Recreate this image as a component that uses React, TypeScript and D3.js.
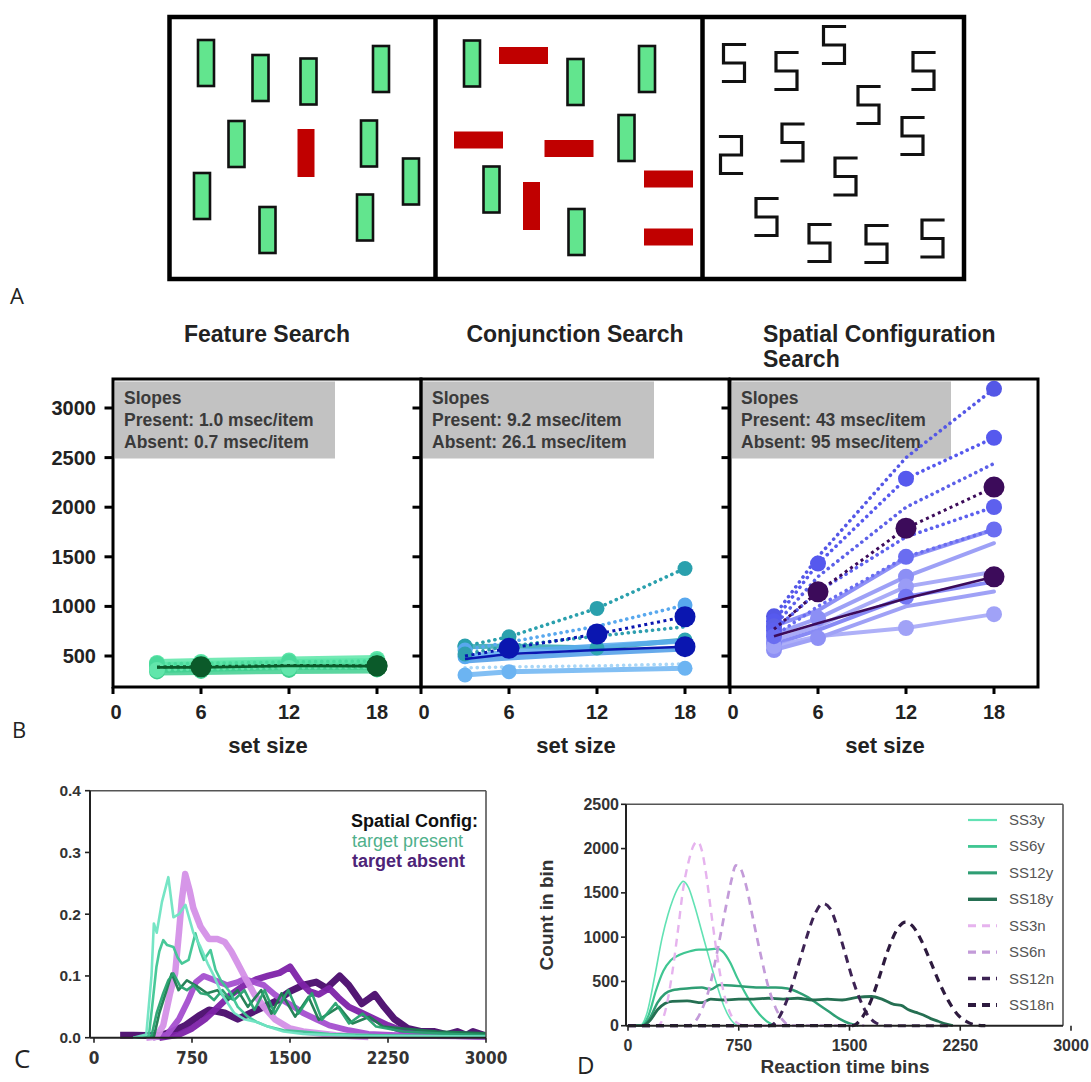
import React from "react";
import * as d3 from "d3";

const W = 1091;
const H = 1082;
const SANS = "'Liberation Sans', Arial, Helvetica, sans-serif";
const NARROW = "'Liberation Sans Narrow', 'Arial Narrow', 'DejaVu Sans Condensed', sans-serif";
const LETTER = "'Open Sans', 'Noto Sans', sans-serif";

// ---------------- Panel A: stimulus displays (stimulus units 0-270) ----------------
const featureItems = [
  { x: 41, y: 50, kind: "gv" },
  { x: 95.5, y: 65, kind: "gv" },
  { x: 143.5, y: 68.5, kind: "gv" },
  { x: 216, y: 56, kind: "gv" },
  { x: 71.5, y: 131, kind: "gv" },
  { x: 141, y: 140, kind: "rv" },
  { x: 204, y: 130.5, kind: "gv" },
  { x: 246, y: 168.5, kind: "gv" },
  { x: 37, y: 183, kind: "gv" },
  { x: 102.5, y: 217, kind: "gv" },
  { x: 200, y: 204.5, kind: "gv" },
];
const conjunctionItems = [
  { x: 38, y: 50.5, kind: "gv" },
  { x: 89.5, y: 42.5, kind: "rh" },
  { x: 141.5, y: 69, kind: "gv" },
  { x: 213, y: 56, kind: "gv" },
  { x: 44.5, y: 127, kind: "rh" },
  { x: 135, y: 135.5, kind: "rh" },
  { x: 192.5, y: 125, kind: "gv" },
  { x: 57.5, y: 176.5, kind: "gv" },
  { x: 97.5, y: 193, kind: "rv" },
  { x: 234.5, y: 166, kind: "rh" },
  { x: 234.5, y: 224, kind: "rh" },
  { x: 142.5, y: 219, kind: "gv" },
];
const spatialItems = [
  { x: 33, y: 50, kind: "5" },
  { x: 85.5, y: 58, kind: "5" },
  { x: 133, y: 32, kind: "5" },
  { x: 222.5, y: 58, kind: "5" },
  { x: 167.5, y: 92, kind: "5" },
  { x: 211.5, y: 123, kind: "5" },
  { x: 30, y: 142, kind: "2" },
  { x: 91.5, y: 129.5, kind: "5" },
  { x: 144.5, y: 163.5, kind: "5" },
  { x: 65.5, y: 204, kind: "5" },
  { x: 118.5, y: 230, kind: "5" },
  { x: 175.5, y: 231, kind: "5" },
  { x: 231.5, y: 225.5, kind: "5" },
];

// ---------------- Panel B: RT x set size ----------------
const SET_SIZES = [3, 6, 12, 18];
const X_TICKS_B = [0, 6, 12, 18];
const Y_TICKS_B = [500, 1000, 1500, 2000, 2500, 3000];

const featurePresent = [
  [400, 410, 430, 440],
  [370, 380, 400, 400],
  [430, 440, 455, 470],
  [345, 350, 360, 365],
];
const featureAbsent = [
  [390, 400, 410, 425],
  [420, 425, 440, 450],
  [360, 370, 380, 385],
];
const featureMeanPresent = [385, 385, 400, 398];
const featureMeanAbsent = [390, 392, 405, 402];
const featurePresentDots = [[1, 1, 1, 1], [1, 1, 1, 1], [1, 1, 1, 1], [1, 1, 1, 1]];
const featureAbsentDots = [[1, 1, 1, 1], [1, 1, 1, 1], [1, 1, 1, 1]];

const conjPresent = [
  [594, 600, 580, 661],
  [493, 540, 600, 650],
  [450, 480, 530, 570],
  [309, 342, 360, 376],
];
const conjAbsent = [
  [600, 694, 980, 1382],
  [560, 640, 800, 1013],
  [520, 600, 700, 795],
  [380, 390, 400, 420],
];
const conjMeanPresent = [470, 520, 560, 594];
const conjMeanAbsent = [500, 577, 721, 896];
const conjPresentDots = [[1, 0, 1, 1], [1, 0, 0, 0], [0, 0, 0, 0], [1, 1, 0, 1]];
const conjAbsentDots = [[1, 1, 1, 1], [1, 0, 0, 1], [1, 0, 0, 0], [0, 0, 0, 0]];

const spatialPresent = [
  [800, 960, 1486, 1775],
  [720, 880, 1300, 1637],
  [660, 800, 1200, 1350],
  [620, 760, 1097, 1250],
  [560, 681, 1000, 1150],
  [600, 700, 782, 922],
];
const spatialAbsent = [
  [900, 1500, 2500, 3193],
  [850, 1432, 2288, 2700],
  [800, 1300, 2000, 2440],
  [760, 1150, 1700, 2002],
  [700, 1000, 1500, 1775],
];
const spatialMeanPresent = [700, 830, 1080, 1298];
const spatialMeanAbsent = [770, 1147, 1788, 2203];
const spatialPresentDots = [[1, 0, 0, 0], [1, 1, 1, 0], [1, 0, 1, 0], [1, 0, 1, 0], [1, 1, 0, 0], [1, 0, 1, 1]];
const spatialAbsentDots = [[1, 0, 0, 1], [1, 1, 1, 1], [1, 0, 0, 0], [1, 0, 0, 1], [1, 0, 1, 1]];

const featureSlopes = ["Slopes", "Present: 1.0 msec/item", "Absent: 0.7 msec/item"];
const conjSlopes = ["Slopes", "Present: 9.2 msec/item", "Absent: 26.1 msec/item"];
const spatialSlopes = ["Slopes", "Present: 43 msec/item", "Absent: 95 msec/item"];

// ---------------- Panel C: RT distributions (proportion) ----------------
const C_X_TICKS = [0, 750, 1500, 2250, 3000];
const C_Y_TICKS = [0, 0.1, 0.2, 0.3, 0.4];
const cPresent3 = [[300,0],[400,0.005],[440,0.1],[458,0.185],[480,0.17],[520,0.22],[569,0.26],[608,0.195],[650,0.2],[700,0.215],[760,0.17],[815,0.147],[870,0.12],[918,0.1],[980,0.07],[1073,0.04],[1150,0.03],[1250,0.025],[1330,0.018],[1450,0.01],[1600,0.006],[2000,0.003],[3000,0.002]];
const cPresent6 = [[300,0],[420,0.003],[450,0.06],[478,0.115],[500,0.14],[530,0.158],[560,0.15],[608,0.147],[640,0.13],[672,0.12],[724,0.126],[776,0.169],[815,0.14],[840,0.126],[892,0.142],[930,0.11],[970,0.093],[1047,0.072],[1100,0.05],[1177,0.034],[1250,0.025],[1332,0.018],[1450,0.012],[1590,0.01],[1800,0.006],[2200,0.004],[3000,0.002]];
const cPresent12 = [[300,0],[440,0.003],[480,0.04],[530,0.072],[569,0.093],[608,0.104],[660,0.083],[711,0.077],[760,0.085],[815,0.072],[870,0.07],[918,0.061],[983,0.077],[1030,0.065],[1073,0.061],[1151,0.077],[1228,0.045],[1306,0.077],[1383,0.039],[1487,0.077],[1565,0.039],[1668,0.072],[1745,0.029],[1849,0.056],[1952,0.023],[2056,0.039],[2159,0.018],[2366,0.01],[2625,0.007],[3000,0.004]];
const cPresent18 = [[300,0],[460,0.003],[500,0.04],[556,0.077],[595,0.104],[647,0.077],[711,0.093],[789,0.083],[866,0.072],[944,0.077],[1021,0.061],[1099,0.077],[1177,0.05],[1280,0.077],[1358,0.039],[1435,0.072],[1539,0.034],[1642,0.066],[1720,0.029],[1875,0.05],[1978,0.023],[2108,0.034],[2211,0.018],[2366,0.015],[2625,0.01],[3000,0.007]];
const cAbsent3 = [[400,0],[480,0.002],[530,0.02],[580,0.07],[621,0.104],[650,0.17],[672,0.223],[698,0.265],[730,0.24],[760,0.21],[815,0.18],[879,0.16],[944,0.16],[1000,0.155],[1050,0.14],[1100,0.12],[1150,0.1],[1228,0.07],[1300,0.05],[1383,0.03],[1500,0.015],[1600,0.01],[1850,0.004],[2100,0.001]];
const cAbsent6 = [[450,0],[560,0.005],[650,0.03],[720,0.06],[780,0.09],[840,0.1],[900,0.095],[960,0.09],[1020,0.085],[1100,0.09],[1150,0.095],[1228,0.09],[1300,0.085],[1383,0.07],[1450,0.06],[1530,0.05],[1600,0.04],[1700,0.03],[1800,0.02],[1950,0.012],[2100,0.006],[2400,0.003],[3000,0.002]];
const cAbsent12 = [[500,0],[650,0.005],[750,0.015],[850,0.03],[950,0.05],[1050,0.07],[1150,0.085],[1250,0.095],[1330,0.1],[1420,0.105],[1500,0.115],[1580,0.09],[1650,0.075],[1720,0.07],[1800,0.08],[1870,0.065],[1950,0.05],[2050,0.04],[2150,0.03],[2250,0.02],[2350,0.012],[2450,0.006],[2600,0.004],[3000,0.002]];
const cAbsent18 = [[200,0.004],[300,0.004],[500,0.003],[600,0.01],[700,0.02],[800,0.035],[880,0.045],[1000,0.04],[1100,0.03],[1200,0.04],[1300,0.05],[1400,0.06],[1500,0.075],[1600,0.085],[1700,0.09],[1780,0.08],[1880,0.1],[1950,0.085],[2050,0.055],[2150,0.07],[2220,0.05],[2300,0.03],[2400,0.015],[2500,0.01],[2600,0.01],[2700,0.005],[2780,0.01],[2850,0.004],[2900,0.01],[3000,0.003]];

// ---------------- Panel D: model RT distributions (counts) ----------------
const D_X_TICKS = [0, 750, 1500, 2250, 3000];
const D_Y_TICKS = [0, 500, 1000, 1500, 2000, 2500];
const dLabels = ["SS3y", "SS6y", "SS12y", "SS18y", "SS3n", "SS6n", "SS12n", "SS18n"];
const dSS3y = [[0,0],[80,0],[130,150],[180,550],[232,1000],[270,1250],[303,1420],[340,1560],[374,1630],[410,1560],[450,1360],[500,1060],[550,760],[600,470],[650,220],[700,60],[740,0]];
const dSS6y = [[0,0],[90,0],[140,120],[190,400],[240,620],[290,740],[350,800],[420,840],[480,860],[540,860],[600,870],[640,840],[690,720],[740,540],[790,380],[840,240],[890,130],[940,50],[1000,0]];
const dSS12y = [[0,0],[100,0],[150,90],[200,260],[250,360],[300,400],[400,420],[500,430],[560,410],[620,460],[700,455],[800,440],[900,430],[1000,430],[1080,420],[1150,380],[1220,320],[1290,240],[1360,160],[1430,80],[1500,25],[1560,0]];
const dSS18y = [[0,0],[100,0],[150,60],[200,180],[250,250],[300,275],[400,280],[500,260],[560,300],[650,290],[750,300],[850,300],[950,310],[1050,300],[1150,310],[1250,290],[1350,300],[1450,290],[1550,320],[1650,330],[1720,300],[1800,240],[1850,230],[1900,180],[1950,150],[2000,120],[2050,80],[2100,50],[2150,20],[2200,0]];
const dSS3n = [[0,0],[200,0],[250,150],[300,600],[340,1100],[374,1550],[410,1850],[440,2020],[470,2080],[500,1980],[530,1700],[560,1320],[590,950],[620,620],[650,360],[690,150],[740,30],[800,0],[1100,0]];
const dSS6n = [[0,0],[400,0],[450,40],[500,180],[550,420],[600,800],[650,1230],[700,1640],[730,1810],[760,1780],[800,1580],[850,1180],[900,790],[950,440],[1000,200],[1050,60],[1100,0],[1600,0]];
const dSS12n = [[0,0],[960,0],[1010,60],[1060,220],[1110,450],[1160,720],[1210,1000],[1260,1240],[1320,1380],[1370,1320],[1420,1100],[1470,820],[1520,530],[1570,300],[1620,130],[1680,30],[1740,0],[2200,0]];
const dSS18n = [[0,0],[1520,0],[1580,80],[1640,260],[1700,540],[1760,850],[1820,1080],[1880,1170],[1930,1120],[1990,950],[2050,720],[2110,480],[2170,280],[2230,130],[2290,50],[2350,10],[2420,0]];

// ================= Panel A =================
const A_ORIGINS = [165, 434, 701];
const A_TOP = 13;

function Stimulus({ items, origin }: { items: any[]; origin: number }) {
  const sx = d3.scaleLinear().domain([0, 270]).range([origin, origin + 270]);
  const sy = d3.scaleLinear().domain([0, 270]).range([A_TOP, A_TOP + 270]);
  return (
    <g>
      {items.map((it, i) => {
        const cx = sx(it.x);
        const cy = sy(it.y);
        if (it.kind === "gv") {
          return <rect key={i} x={cx - 8} y={cy - 23} width={16} height={46} fill="#62e58e" stroke="#111" strokeWidth={2.6} />;
        }
        if (it.kind === "rv") {
          return <rect key={i} x={cx - 8.5} y={cy - 24} width={17} height={48} fill="#c00000" />;
        }
        if (it.kind === "rh") {
          return <rect key={i} x={cx - 24.5} y={cy - 8.5} width={49} height={17} fill="#c00000" />;
        }
        const w = 21;
        const h = 37;
        const l = cx - w / 2;
        const r = cx + w / 2;
        const t = cy - h / 2;
        const b = cy + h / 2;
        const d =
          it.kind === "5"
            ? `M${r},${t} H${l} V${cy} H${r} V${b} H${l}`
            : `M${l},${t} H${r} V${cy} H${l} V${b} H${r}`;
        return <path key={i} d={d} fill="none" stroke="#111" strokeWidth={3.2} strokeLinecap="square" />;
      })}
    </g>
  );
}

function PanelA() {
  return (
    <g>
      <Stimulus items={featureItems} origin={A_ORIGINS[0]} />
      <Stimulus items={conjunctionItems} origin={A_ORIGINS[1]} />
      <Stimulus items={spatialItems} origin={A_ORIGINS[2]} />
      <rect x={169.5} y={17} width={794.5} height={262} fill="none" stroke="#000" strokeWidth={4.5} />
      <line x1={435.5} x2={435.5} y1={17} y2={279} stroke="#000" strokeWidth={4.5} />
      <line x1={702.5} x2={702.5} y1={17} y2={279} stroke="#000" strokeWidth={4.5} />
      <text x={10} y={304} fontFamily={LETTER} fontSize={22} fill="#222">A</text>
    </g>
  );
}

// ================= Panel B =================
const B_TOP = 379;
const B_BOTTOM = 687;
const B_W = 308;
const yB = d3.scaleLinear().domain([0, 3000]).range([705.6, 408]);

type BCfg = {
  left: number;
  title: string[];
  titleX: number;
  titleAnchor: string;
  present: number[][];
  absent: number[][];
  presentDots: number[][];
  absentDots: number[][];
  meanP: number[];
  meanA: number[];
  colP: string[];
  colA: string[];
  meanCol: string;
  indivWidth: number;
  indivR: number;
  slopes: string[];
  grayW: number;
  meanDotsP: number[];
  meanDotsA: number[];
  yLabels: boolean;
};

function SearchPanel({ c }: { c: BCfg }) {
  const x = d3.scaleLinear().domain([0, 21]).range([c.left, c.left + B_W]);
  const line = d3
    .line<number>()
    .x((_, i) => x(SET_SIZES[i]))
    .y((d) => yB(d));
  return (
    <g>
      {c.title.map((t, i) => (
        <text key={i} x={c.titleX} y={341.5 + i * 25.5} textAnchor={c.titleAnchor as any} fontFamily={SANS} fontWeight="bold" fontSize={23} fill="#222">
          {t}
        </text>
      ))}
      <rect x={c.left + 2} y={381.5} width={c.grayW} height={77} fill="#c2c2c2" />
      {c.slopes.map((t, i) => (
        <text key={i} x={c.left + 11} y={403.5 + i * 22} fontFamily={SANS} fontWeight="bold" fontSize={17.5} fill="#3a3a3a">
          {t}
        </text>
      ))}
      {c.present.map((s, i) => (
        <path key={"p" + i} d={line(s) || ""} fill="none" stroke={c.colP[i % c.colP.length]} strokeWidth={c.indivWidth} strokeOpacity={0.85} strokeLinecap="round" />
      ))}
      {c.absent.map((s, i) => (
        <path key={"a" + i} d={line(s) || ""} fill="none" stroke={c.colA[i % c.colA.length]} strokeWidth={3.6} strokeDasharray="0.1 6" strokeLinecap="round" />
      ))}
      {c.present.map((s, i) =>
        s.map((v, j) =>
          c.presentDots[i][j] ? <circle key={"pd" + i + "-" + j} cx={x(SET_SIZES[j])} cy={yB(v)} r={c.indivR} fill={c.colP[i % c.colP.length]} /> : null
        )
      )}
      {c.absent.map((s, i) =>
        s.map((v, j) =>
          c.absentDots[i][j] ? <circle key={"ad" + i + "-" + j} cx={x(SET_SIZES[j])} cy={yB(v)} r={c.indivR} fill={c.colA[i % c.colA.length]} /> : null
        )
      )}
      <path d={line(c.meanP) || ""} fill="none" stroke={c.meanCol} strokeWidth={2.6} />
      <path d={line(c.meanA) || ""} fill="none" stroke={c.meanCol} strokeWidth={3} strokeDasharray="3 3.5" />
      {c.meanDotsA.map((j) => (
        <circle key={"ma" + j} cx={x(SET_SIZES[j])} cy={yB(c.meanA[j])} r={10.5} fill={c.meanCol} />
      ))}
      {c.meanDotsP.map((j) => (
        <circle key={"mp" + j} cx={x(SET_SIZES[j])} cy={yB(c.meanP[j])} r={10.5} fill={c.meanCol} />
      ))}
      <rect x={c.left} y={B_TOP} width={B_W} height={B_BOTTOM - B_TOP} fill="none" stroke="#000" strokeWidth={3} />
      {Y_TICKS_B.map((t) => (
        <line key={"yt" + t} x1={c.left - 8.5} x2={c.left} y1={yB(t)} y2={yB(t)} stroke="#000" strokeWidth={3} />
      ))}
      {c.yLabels &&
        Y_TICKS_B.map((t) => (
          <text key={"yl" + t} x={96} y={yB(t) + 7} textAnchor="end" fontFamily={SANS} fontWeight="bold" fontSize={20} fill="#222">
            {t}
          </text>
        ))}
      {X_TICKS_B.map((t) => (
        <line key={"xt" + t} x1={x(t)} x2={x(t)} y1={B_BOTTOM} y2={B_BOTTOM + 7} stroke="#000" strokeWidth={3} />
      ))}
      {X_TICKS_B.map((t) => (
        <text key={"xl" + t} x={x(t) + (t === 0 ? 3 : 0)} y={719} textAnchor="middle" fontFamily={SANS} fontWeight="bold" fontSize={20} fill="#222">
          {t}
        </text>
      ))}
      <text x={c.left + 155} y={753} textAnchor="middle" fontFamily={SANS} fontWeight="bold" fontSize={22} fill="#222">
        set size
      </text>
    </g>
  );
}

const bConfigs: BCfg[] = [
  {
    left: 113,
    title: ["Feature Search"],
    titleX: 267,
    titleAnchor: "middle",
    present: featurePresent,
    absent: featureAbsent,
    presentDots: featurePresentDots,
    absentDots: featureAbsentDots,
    meanP: featureMeanPresent,
    meanA: featureMeanAbsent,
    colP: ["#4fdf9f", "#45d597", "#5ce6a8", "#3fcf8f"],
    colA: ["#55e0a2", "#4ad99b", "#62e6ab"],
    meanCol: "#0b5a2a",
    indivWidth: 8,
    indivR: 8,
    slopes: featureSlopes,
    grayW: 220,
    meanDotsP: [3],
    meanDotsA: [1, 3],
    yLabels: true,
  },
  {
    left: 421,
    title: ["Conjunction Search"],
    titleX: 575,
    titleAnchor: "middle",
    present: conjPresent,
    absent: conjAbsent,
    presentDots: conjPresentDots,
    absentDots: conjAbsentDots,
    meanP: conjMeanPresent,
    meanA: conjMeanAbsent,
    colP: ["#2ea5b3", "#5aaaf0", "#4b9be8", "#6cb4f2"],
    colA: ["#2aa0ad", "#58a8ee", "#2f9fb0", "#a8d6f7"],
    meanCol: "#0a16b0",
    indivWidth: 5,
    indivR: 7.5,
    slopes: conjSlopes,
    grayW: 231,
    meanDotsP: [3],
    meanDotsA: [1, 2, 3],
    yLabels: false,
  },
  {
    left: 730,
    title: ["Spatial Configuration", "Search"],
    titleX: 763,
    titleAnchor: "start",
    present: spatialPresent,
    absent: spatialAbsent,
    presentDots: spatialPresentDots,
    absentDots: spatialAbsentDots,
    meanP: spatialMeanPresent,
    meanA: spatialMeanAbsent,
    colP: ["#7a7df4", "#8c8ff5", "#9a9cf6", "#7376f3", "#8e90f5", "#a0a2f7"],
    colA: ["#5457e6", "#5659ee", "#5c60e8", "#5d60ee", "#6a6df1"],
    meanCol: "#3c0b5a",
    indivWidth: 4,
    indivR: 8,
    slopes: spatialSlopes,
    grayW: 219,
    meanDotsP: [3],
    meanDotsA: [1, 2, 3],
    yLabels: false,
  },
];

function PanelB() {
  return (
    <g>
      {bConfigs.map((c, i) => (
        <SearchPanel key={i} c={c} />
      ))}
      <text x={12} y={738} fontFamily={LETTER} fontSize={22} fill="#222">B</text>
    </g>
  );
}

// ================= Panel C =================
const xC = d3.scaleLinear().domain([0, 3000]).range([94, 486]);
const yC = d3.scaleLinear().domain([0, 0.4]).range([1037.7, 790.7]);

const cSeries = [
  { data: cAbsent18, color: "#4a0b6d", width: 7 },
  { data: cAbsent12, color: "#7d22a8", width: 6.5 },
  { data: cAbsent6, color: "#a44fcf", width: 6 },
  { data: cAbsent3, color: "#d490e7", width: 6.5 },
  { data: cPresent18, color: "#1b7c4f", width: 2.6 },
  { data: cPresent12, color: "#27a26f", width: 2.6 },
  { data: cPresent6, color: "#3ec592", width: 2.6 },
  { data: cPresent3, color: "#6fe4c2", width: 2.6 },
];

function PanelC() {
  const line = d3
    .line<number[]>()
    .x((d) => xC(d[0]))
    .y((d) => yC(d[1]));
  const x0 = 90;
  return (
    <g>
      <defs>
        <clipPath id="clipC">
          <rect x={x0} y={yC(0.4)} width={xC(3000) - x0} height={yC(0) - yC(0.4) + 4} />
        </clipPath>
      </defs>
      <g clipPath="url(#clipC)">
        {cSeries.map((s, i) => (
          <path key={i} d={line(s.data) || ""} fill="none" stroke={s.color} strokeWidth={s.width} strokeLinejoin="round" strokeOpacity={0.95} />
        ))}
      </g>
      <line x1={x0} x2={xC(3000)} y1={yC(0.4)} y2={yC(0.4)} stroke="#555" strokeWidth={1.6} />
      <line x1={xC(3000)} x2={xC(3000)} y1={yC(0.4)} y2={yC(0)} stroke="#555" strokeWidth={1.6} />
      <line x1={x0} x2={x0} y1={yC(0.4)} y2={yC(0)} stroke="#222" strokeWidth={2} />
      <line x1={x0} x2={xC(3000)} y1={yC(0)} y2={yC(0)} stroke="#222" strokeWidth={2} />
      {C_Y_TICKS.map((t) => (
        <g key={"cy" + t}>
          <line x1={x0 - 5} x2={x0} y1={yC(t)} y2={yC(t)} stroke="#222" strokeWidth={1.6} />
          <text x={81} y={yC(t) + 5.5} textAnchor="end" fontFamily={SANS} fontWeight="bold" fontSize={15.5} fill="#333">
            {d3.format(".1f")(t)}
          </text>
        </g>
      ))}
      {C_X_TICKS.map((t) => (
        <g key={"cx" + t}>
          <line x1={xC(t)} x2={xC(t)} y1={yC(0)} y2={yC(0) + 5} stroke="#222" strokeWidth={1.6} />
          <text x={xC(t)} y={1064} textAnchor="middle" fontFamily={NARROW} fontWeight="bold" fontSize={17} fill="#333">
            {t}
          </text>
        </g>
      ))}
      <text x={351} y={826.5} fontFamily={SANS} fontWeight="bold" fontSize={18} fill="#111">Spatial Config:</text>
      <text x={352} y={847} fontFamily={SANS} fontSize={18} fill="#4fb08b">target present</text>
      <text x={352} y={866.5} fontFamily={SANS} fontWeight="bold" fontSize={18} fill="#4d2478">target absent</text>
      <text x={14} y={1068} fontFamily={LETTER} fontSize={26} fill="#222">C</text>
    </g>
  );
}

// ================= Panel D =================
const xD = d3.scaleLinear().domain([0, 3000]).range([628, 1071]);
const yD = d3.scaleLinear().domain([0, 2500]).range([1025.7, 804.3]);
const D_AXIS_X = 626;
const D_RIGHT = 1063;

const dSeries = [
  { data: dSS3y, color: "#62e2b4", width: 1.6, dash: false },
  { data: dSS6y, color: "#3fc692", width: 2.2, dash: false },
  { data: dSS12y, color: "#2f9e74", width: 2.5, dash: false },
  { data: dSS18y, color: "#256f52", width: 2.8, dash: false },
  { data: dSS3n, color: "#e6b3ee", width: 2.4, dash: true },
  { data: dSS6n, color: "#c39bd9", width: 2.7, dash: true },
  { data: dSS12n, color: "#3d2354", width: 3, dash: true },
  { data: dSS18n, color: "#2d1a3e", width: 3.2, dash: true },
];

function PanelD() {
  const line = d3
    .line<number[]>()
    .x((d) => xD(d[0]))
    .y((d) => yD(d[1]))
    .curve(d3.curveMonotoneX);
  const legendY = d3.scaleLinear().domain([0, 7]).range([820, 1005]);
  return (
    <g>
      {dSeries.map((s, i) => (
        <path key={i} d={line(s.data) || ""} fill="none" stroke={s.color} strokeWidth={s.width} strokeDasharray={s.dash ? "8 6" : undefined} />
      ))}
      <line x1={D_AXIS_X} x2={D_RIGHT} y1={yD(2500)} y2={yD(2500)} stroke="#555" strokeWidth={1.6} />
      <line x1={D_RIGHT} x2={D_RIGHT} y1={yD(2500)} y2={yD(0)} stroke="#555" strokeWidth={1.6} />
      <line x1={D_AXIS_X} x2={D_AXIS_X} y1={yD(2500)} y2={yD(0)} stroke="#222" strokeWidth={2} />
      <line x1={D_AXIS_X} x2={D_RIGHT} y1={yD(0)} y2={yD(0)} stroke="#222" strokeWidth={2} />
      {D_Y_TICKS.map((t) => (
        <g key={"dy" + t}>
          <line x1={D_AXIS_X - 5} x2={D_AXIS_X} y1={yD(t)} y2={yD(t)} stroke="#222" strokeWidth={1.6} />
          <text x={619} y={yD(t) + 5.5} textAnchor="end" fontFamily={SANS} fontWeight="bold" fontSize={16} fill="#333">
            {t}
          </text>
        </g>
      ))}
      {D_X_TICKS.map((t) => (
        <g key={"dx" + t}>
          <line x1={xD(t)} x2={xD(t)} y1={yD(0)} y2={yD(0) + 5} stroke="#222" strokeWidth={1.6} />
          <text x={xD(t)} y={1051} textAnchor="middle" fontFamily={SANS} fontWeight="bold" fontSize={16} fill="#333">
            {t}
          </text>
        </g>
      ))}
      {dSeries.map((s, i) => (
        <g key={"lg" + i}>
          <line x1={968} x2={997} y1={legendY(i)} y2={legendY(i)} stroke={s.color} strokeWidth={s.width + 0.6} strokeDasharray={s.dash ? "8 6" : undefined} />
          <text x={1009} y={legendY(i) + 5} fontFamily={SANS} fontSize={15} fill="#555">
            {dLabels[i]}
          </text>
        </g>
      ))}
      <text x={845} y={1073} textAnchor="middle" fontFamily={SANS} fontWeight="bold" fontSize={19} fill="#333">
        Reaction time bins
      </text>
      <text transform={`translate(553,915) rotate(-90)`} textAnchor="middle" fontFamily={SANS} fontWeight="bold" fontSize={19} fill="#333">
        Count in bin
      </text>
      <text x={577} y={1074} fontFamily={LETTER} fontSize={24} fill="#222">D</text>
    </g>
  );
}

export default function App() {
  return (
    <svg width={W} height={H} viewBox={`0 0 ${W} ${H}`} style={{ position: "absolute", left: 0, top: 0, background: "#fff" }}>
      <rect width={W} height={H} fill="#fff" />
      <PanelA />
      <PanelB />
      <PanelC />
      <PanelD />
    </svg>
  );
}
